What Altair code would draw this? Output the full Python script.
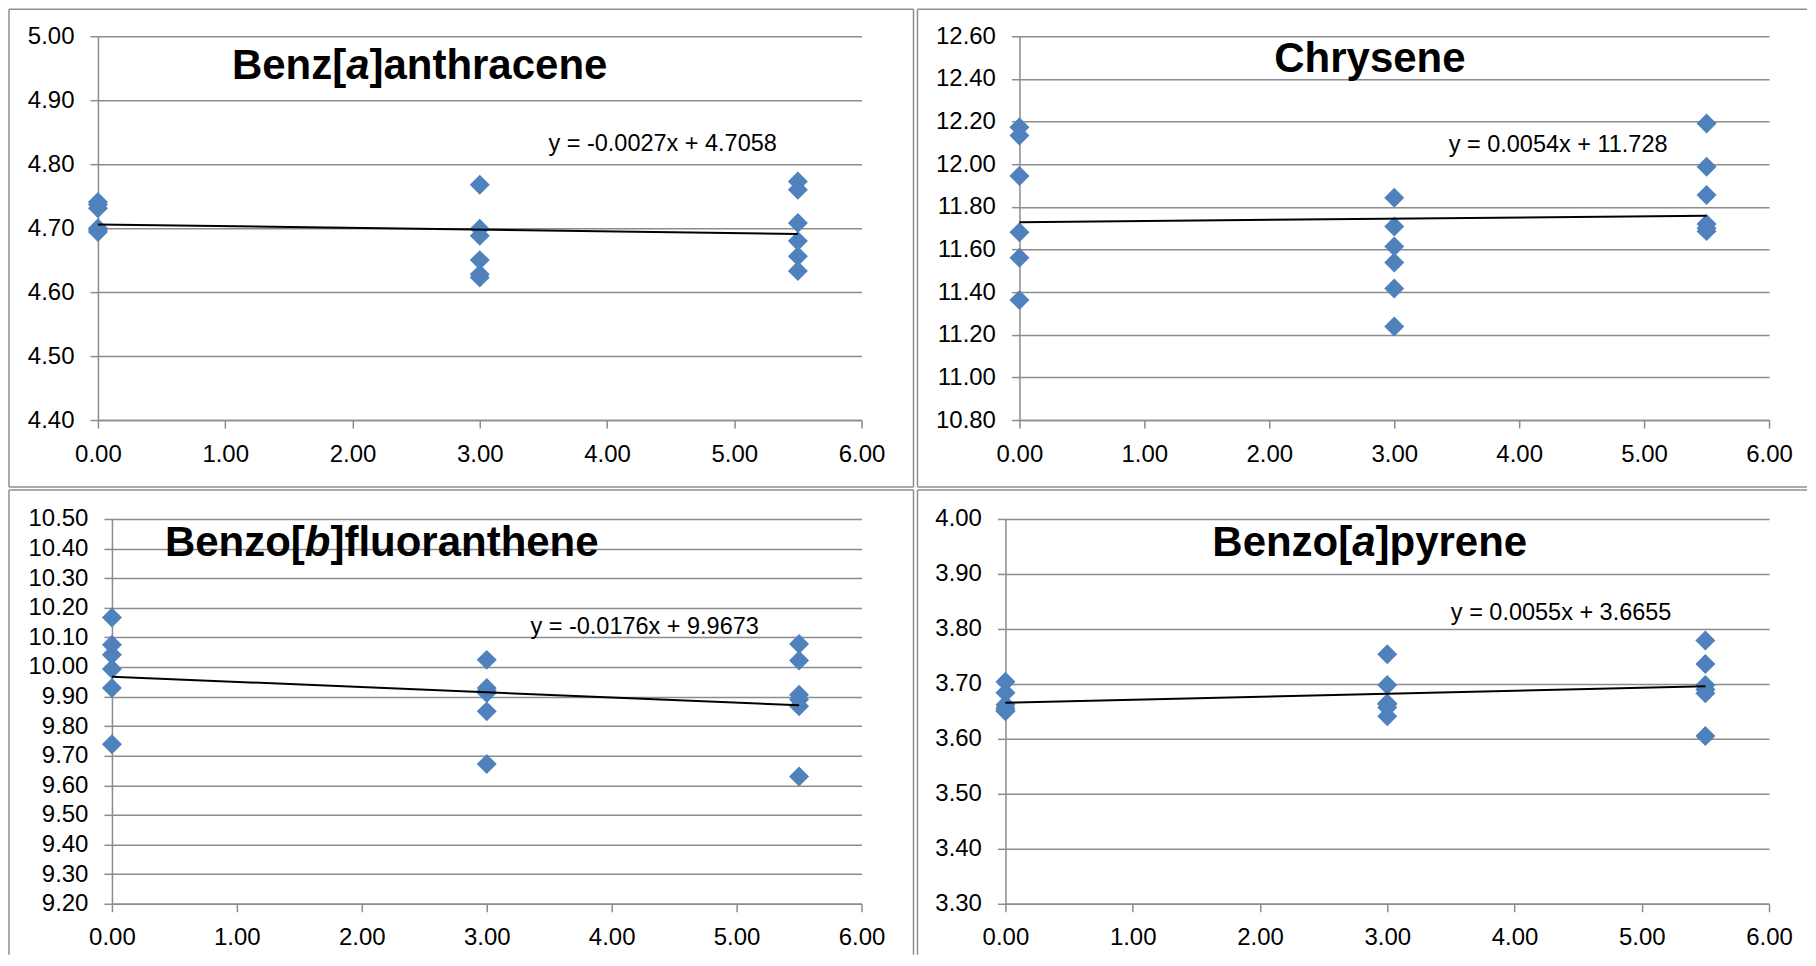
import altair as alt
import pandas as pd

# ---------------- data ----------------
x_values = [0.0, 0.0, 0.0, 0.0, 0.0, 0.0,
            3.0, 3.0, 3.0, 3.0, 3.0, 3.0,
            5.5, 5.5, 5.5, 5.5, 5.5, 5.5]

baa_values = [4.741, 4.737, 4.731, 4.700, 4.697, 4.694,
              4.768, 4.699, 4.688, 4.650, 4.628, 4.623,
              4.773, 4.760, 4.708, 4.680, 4.656, 4.633]

chr_values = [12.173, 12.134, 11.945, 11.681, 11.561, 11.363,
              11.842, 11.708, 11.614, 11.539, 11.417, 11.239,
              12.191, 11.988, 11.855, 11.720, 11.700, 11.686]

bbf_values = [10.167, 10.075, 10.041, 9.993, 9.929, 9.739,
              10.024, 9.929, 9.920, 9.912, 9.850, 9.672,
              10.078, 10.022, 9.906, 9.890, 9.867, 9.630]

bap_values = [3.704, 3.684, 3.662, 3.656, 3.652, 3.650,
              3.754, 3.698, 3.665, 3.663, 3.657, 3.641,
              3.779, 3.736, 3.698, 3.690, 3.683, 3.605]

slopes = [-0.0027, 0.0054, -0.0176, 0.0055]
intercepts = [4.7058, 11.728, 9.9673, 3.6655]
equation_labels = ["y = -0.0027x + 4.7058", "y = 0.0054x + 11.728",
                   "y = -0.0176x + 9.9673", "y = 0.0055x + 3.6655"]

title_before = ["Benz[", "Chrysene", "Benzo[", "Benzo["]
title_italic = ["a", "", "b", "a"]
title_after = ["]anthracene", "", "]fluoranthene", "]pyrene"]

x_ticks = [0.0, 1.0, 2.0, 3.0, 4.0, 5.0, 6.0]
y_domains = [[4.40, 5.00], [10.80, 12.60], [9.20, 10.50], [3.30, 4.00]]
y_ticks = [
    [4.40, 4.50, 4.60, 4.70, 4.80, 4.90, 5.00],
    [10.80, 11.00, 11.20, 11.40, 11.60, 11.80, 12.00, 12.20, 12.40, 12.60],
    [9.20, 9.30, 9.40, 9.50, 9.60, 9.70, 9.80, 9.90, 10.00, 10.10, 10.20, 10.30, 10.40, 10.50],
    [3.30, 3.40, 3.50, 3.60, 3.70, 3.80, 3.90, 4.00],
]
series = [baa_values, chr_values, bbf_values, bap_values]

# ---------------- style / layout ----------------
FONT = "Liberation Sans"
BLUE = "#4F81BD"
GRAY = "#8C8C8C"
BORDER = "#8F8F8F"
TITLE_SIZE = 42
EM_BEFORE = {"Benz[": 2.722, "Benzo[": 3.333}
EM_ITALIC = {"a": 0.556, "b": 0.611}

layout = [
    dict(height=384, xr=[0, 764], yoff=0, tx=134, ty=43, ex=565, ey=115,
         segs=[(-89, 816, -27, -27), (-89, -89, -27, 451), (816, 816, -27, 451), (-89, 816, 451, 451)]),
    dict(height=384, xr=[14, 764], yoff=-14, tx=269, ty=36, ex=553, ey=116,
         segs=[(-88, 802, -27, -27), (-88, -88, -27, 451), (-88, 802, 451, 451)]),
    dict(height=385, xr=[14, 764], yoff=-14, tx=67, ty=37, ex=547, ey=115,
         segs=[(-89, 816, -29, -29), (-89, -89, -29, 436), (816, 816, -29, 436)]),
    dict(height=385, xr=[0, 764], yoff=0, tx=207, ty=37, ex=556, ey=101,
         segs=[(-88, 802, -29, -29), (-88, -88, -29, 436)]),
]

one = pd.DataFrame({"k": [0]})


def seg(x1, x2, y1, y2):
    return alt.Chart(one).mark_rule(color=BORDER, strokeWidth=1.5).encode(
        x=alt.value(x1), x2=alt.value(x2), y=alt.value(y1), y2=alt.value(y2))


def txt(text, x, y, align, size, weight="normal", style="normal"):
    return alt.Chart(one).mark_text(
        text=text, align=align, baseline="alphabetic", font=FONT, fontSize=size,
        fontWeight=weight, fontStyle=style, color="black").encode(
        x=alt.value(x), y=alt.value(y))


def panel(i):
    L = layout[i]
    df = pd.DataFrame({"x": x_values, "y": series[i]})
    xs = alt.X("x:Q", scale=alt.Scale(domain=[0, 6], range=L["xr"], nice=False, zero=False),
               axis=alt.Axis(values=x_ticks, format=".2f", title=None, grid=False,
                             labelPadding=14))
    ys = alt.Y("y:Q", scale=alt.Scale(domain=y_domains[i], nice=False, zero=False),
               axis=alt.Axis(values=y_ticks[i], format=".2f", title=None, grid=True,
                             offset=L["yoff"], labelPadding=16))
    points = alt.Chart(df).mark_point(shape="diamond", filled=True, size=400,
                                      color=BLUE, opacity=1).encode(x=xs, y=ys)
    tdf = pd.DataFrame({"x": [min(x_values), max(x_values)]})
    tdf["y"] = slopes[i] * tdf["x"] + intercepts[i]
    trend = alt.Chart(tdf).mark_line(color="black", strokeWidth=2).encode(x=xs, y=ys)

    layers = [seg(*s) for s in L["segs"]]
    layers += [points, trend]
    # title (mixed upright / italic parts)
    before = title_before[i]
    layers.append(txt(before, L["tx"], L["ty"], "left", TITLE_SIZE, "bold"))
    if title_italic[i]:
        xi = L["tx"] + EM_BEFORE[before] * TITLE_SIZE
        layers.append(txt(title_italic[i], xi, L["ty"], "left", TITLE_SIZE, "bold", "italic"))
        xa = xi + EM_ITALIC[title_italic[i]] * TITLE_SIZE
        layers.append(txt(title_after[i], xa, L["ty"], "left", TITLE_SIZE, "bold"))
    layers.append(txt(equation_labels[i], L["ex"], L["ey"], "center", 23.5))
    return alt.layer(*layers).properties(width=764, height=L["height"])


chart = alt.concat(
    panel(0), panel(1), panel(2), panel(3),
    columns=2, spacing={"row": 99, "column": 144}, bounds="flush"
).properties(
    padding=0, background="white"
).configure_view(
    stroke=None
).configure_axis(
    labelFont=FONT, labelFontSize=24, labelColor="black",
    domainColor=GRAY, domainWidth=1.5, tickColor=GRAY, tickWidth=1.5, tickSize=8,
    gridColor=GRAY, gridWidth=1.5,
    labelFlush=False, labelOverlap=False, labelBound=False
)

chart.save("out.html", embed_options={"renderer": "svg", "actions": False})
